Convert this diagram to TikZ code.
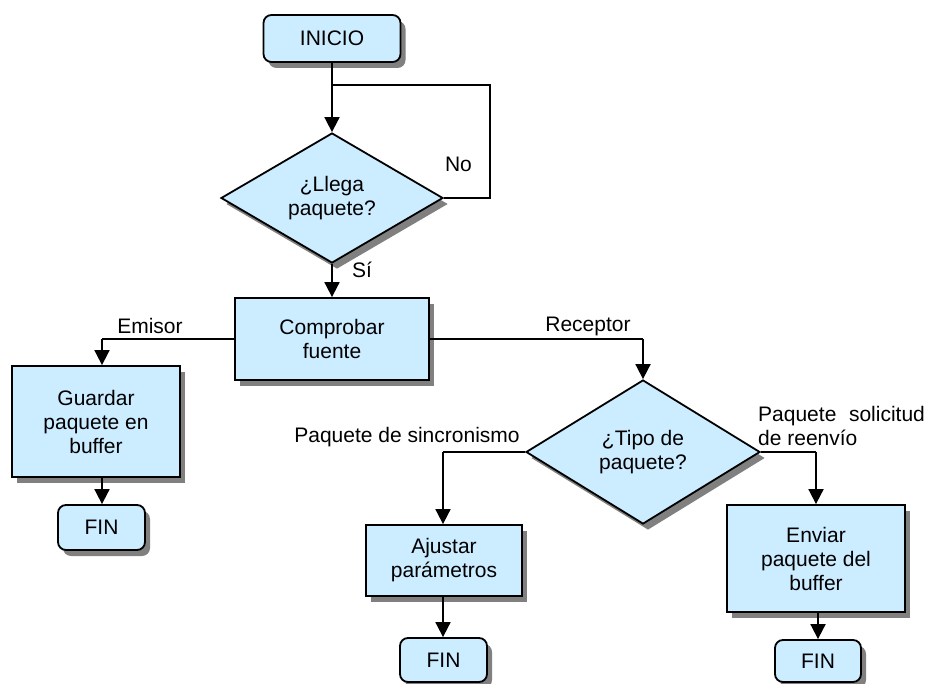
\documentclass[tikz,border=0pt]{standalone}
\usepackage{fontspec}
\setmainfont{Liberation Sans}
\usetikzlibrary{shapes.geometric,arrows.meta,shadows}
\definecolor{boxfill}{RGB}{204,236,255}
\definecolor{shade}{RGB}{128,128,128}
\tikzset{
  base/.style={draw=black, line width=1.8pt, fill=boxfill, align=center,
    inner sep=0pt, font=\fontsize{21}{24}\selectfont,
    drop shadow={shadow xshift=5pt, shadow yshift=-6pt, fill=shade, opacity=1}},
  proc/.style={base, rectangle},
  term/.style={base, rectangle, rounded corners=8pt},
  decide/.style={base, diamond},
  link/.style={line width=1.8pt, draw=black},
  arr/.style={link, -{Triangle[width=15pt,length=15pt]}},
  lbl/.style={font=\fontsize{21}{24}\selectfont, inner sep=0pt, align=left}
}
\begin{document}
\begin{tikzpicture}[x=1pt, y=-1pt]
\useasboundingbox (0,0) rectangle (928,684);

% nodes
\node[term, minimum width=137pt, minimum height=47pt] (inicio) at (332,38.5) {INICIO};
\node[decide, minimum width=222pt, minimum height=130pt, aspect=1.7] (llega) at (332,198) {};
\node[lbl, align=center] (tllega) at (332,198) {¿Llega\\paquete?};
\node[proc, minimum width=194pt, minimum height=82pt] (comp) at (332,339) {Comprobar\\fuente};
\node[proc, minimum width=168pt, minimum height=111pt] (guardar) at (96,421.5) {Guardar\\paquete en\\buffer};
\node[term, minimum width=87pt, minimum height=45pt] (fin1) at (101.5,527.5) {FIN};
\node[decide, minimum width=234pt, minimum height=144pt] (tipo) at (643,452) {};
\node[lbl, align=center] (ttipo) at (643,452) {¿Tipo de\\paquete?};
\node[proc, minimum width=156pt, minimum height=71pt] (ajustar) at (444,560.5) {Ajustar\\parámetros};
\node[term, minimum width=87pt, minimum height=44pt] (fin2) at (443.5,660) {FIN};
\node[proc, minimum width=178pt, minimum height=107pt] (enviar) at (816,558.5) {Enviar\\paquete del\\buffer};
\node[term, minimum width=86pt, minimum height=42pt] (fin3) at (818,661) {FIN};

% loop-back and branch points
\coordinate (join) at (332,85);
\coordinate (loopr) at (490,198);
\coordinate (emis) at (102,339);
\coordinate (recp) at (643,339);
\coordinate (sinc) at (443,452);
\coordinate (reen) at (816,452);

% connectors
\draw[arr] (inicio.south) -- (llega.north);
\draw[link] (llega.east) -- (loopr) |- (join);
\draw[arr] (llega.south) -- (comp.north);
\draw[link] (comp.west) -- (emis);
\draw[arr] (emis) -- (emis |- guardar.north);
\draw[arr] (emis |- guardar.south) -- (fin1.north -| emis);
\draw[link] (comp.east) -- (recp);
\draw[arr] (recp) -- (tipo.north);
\draw[link] (tipo.west) -- (sinc);
\draw[arr] (sinc) -- (sinc |- ajustar.north);
\draw[arr] (sinc |- ajustar.south) -- (fin2.north -| sinc);
\draw[link] (tipo.east) -- (reen);
\draw[arr] (reen) -- (enviar.north);
\draw[arr] (enviar.south -| fin3) -- (fin3.north);

% branch labels
\node[lbl] (lno) at (458.5,164) {No};
\node[lbl] (lsi) at (362,270) {Sí};
\node[lbl] (lemis) at (150,326) {Emisor};
\node[lbl] (lrecp) at (588,326) {Receptor};
\node[lbl] (lsinc) at (407,437) {Paquete de sincronismo};
\node[lbl, anchor=west] (lreen) at (758,426) {Paquete\hspace{0.6em}solicitud\\de reenvío};
\end{tikzpicture}
\end{document}
